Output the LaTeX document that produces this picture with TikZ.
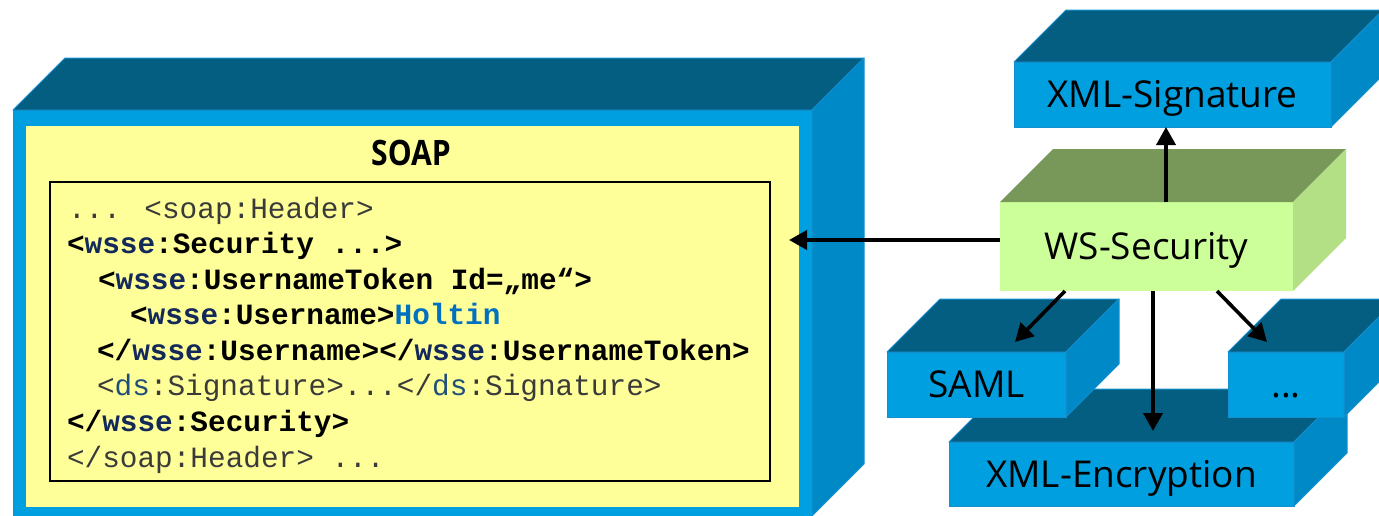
\documentclass[tikz,border=0pt]{standalone}
\usepackage{fontspec}
\setmainfont{Open Sans}
\newfontfamily\codefont{Liberation Mono}
\newfontfamily\titlefont[FakeStretch=0.86]{Open Sans}
\usetikzlibrary{arrows.meta,calc}
\definecolor{bfront}{HTML}{009FE0}
\definecolor{btopc}{HTML}{035E82}
\definecolor{bsidec}{HTML}{0089C7}
\definecolor{bedge}{HTML}{1590CF}
\definecolor{gfront}{HTML}{CCFF99}
\definecolor{gtopc}{HTML}{78985A}
\definecolor{gsidec}{HTML}{B3DF85}
\definecolor{soapyellow}{HTML}{FFFF99}
\definecolor{navy}{HTML}{12295A}
\definecolor{dsblue}{HTML}{1F4E79}
\definecolor{holtin}{HTML}{0070C0}
\definecolor{cgray}{HTML}{3A3A3A}
\newcommand\boxfaces[4]{%
  \filldraw[#3] (#1.north west) -- ++(#2,-#2) -- ($(#1.north east)+(#2,-#2)$) -- (#1.north east) -- cycle;
  \filldraw[#4] (#1.north east) -- ++(#2,-#2) -- ($(#1.south east)+(#2,-#2)$) -- (#1.south east) -- cycle;
}
\tikzset{
  bluebox/.style={fill=bfront, draw=bedge, line width=1pt, inner sep=0pt, outer sep=0pt,
    font=\fontsize{37}{40}\selectfont, text height=26.4pt, text depth=0pt},
  greenbox/.style={fill=gfront, draw=none, inner sep=0pt, outer sep=0pt,
    font=\fontsize{37}{40}\selectfont, text height=26.4pt, text depth=0pt},
  btop/.style={fill=btopc, draw=bedge, line width=1pt, line join=round},
  bside/.style={fill=bsidec, draw=bedge, line width=1pt, line join=round},
  gtop/.style={fill=gtopc, draw=none},
  gside/.style={fill=gsidec, draw=none},
  codeline/.style={anchor=base west, inner sep=0pt, outer sep=0pt,
    font=\codefont\fontsize{29.4}{35}\selectfont},
  arr/.style={line width=3.6pt, -{Triangle[length=18pt,width=19pt]}},
}
\begin{document}
\begin{tikzpicture}[x=1pt,y=-1pt]
\useasboundingbox (0,0) rectangle (1379,515);
\clip (0,0) rectangle (1379,515);
% SOAP cube
\node[bluebox, minimum width=799pt, minimum height=406pt] (soap) at (412.5,313) {};
\boxfaces{soap}{52}{btop}{bside}
\node[fill=soapyellow, inner sep=0pt, outer sep=0pt, minimum width=773pt, minimum height=381pt] (soapin) at (412.5,316.5) {};
\node[draw=black, line width=1.4pt, inner sep=0pt, minimum width=720pt, minimum height=299pt] (code) at (410,331.5) {};
\node[anchor=base, inner sep=0pt, font=\titlefont\bfseries\fontsize{35}{38}\selectfont] (soaptitle) at (411,165) {SOAP};
\node[codeline] (l1) at (68,218) {\color{cgray}... <soap:Header>};
\node[codeline] (l2) at (67,253.6) {\bfseries <{\color{navy}wsse}:Security ...>};
\node[codeline] (l3) at (98,289.1) {\bfseries <{\color{navy}wsse}:UsernameToken Id=„me“>};
\node[codeline] (l4) at (130,324.7) {\bfseries <{\color{navy}wsse}:Username>{\color{holtin}Holtin}};
\node[codeline] (l5) at (97,360.3) {\bfseries </{\color{navy}wsse}:Username></{\color{navy}wsse}:UsernameToken>};
\node[codeline] (l6) at (97,395.9) {\color{cgray}<{\color{dsblue}ds}:Signature>...</{\color{dsblue}ds}:Signature>};
\node[codeline] (l7) at (67,431.4) {\bfseries </{\color{navy}wsse}:Security>};
\node[codeline] (l8) at (67,467) {\color{cgray}</soap:Header> ...};
% right side cubes
\node[bluebox, minimum width=317pt, minimum height=65pt] (sig) at (1172.5,94.5) {XML-Signature};
\boxfaces{sig}{52}{btop}{bside}
\node[greenbox, minimum width=293pt, minimum height=89pt] (ws) at (1146.5,246.5) {WS-Security};
\boxfaces{ws}{53}{gtop}{gside}
\node[bluebox, minimum width=345pt, minimum height=64pt] (enc) at (1121.5,474) {XML-Encryption};
\boxfaces{enc}{53}{btop}{bside}
\node[bluebox, minimum width=179pt, minimum height=65pt] (saml) at (976.5,384.5) {SAML};
\boxfaces{saml}{53}{btop}{bside}
\node[bluebox, minimum width=116pt, minimum height=65pt] (dots) at (1286,384.5) {...};
\boxfaces{dots}{53}{btop}{bside}
% connectors
\coordinate (soaptip) at (789,240);
\coordinate (sigtip) at (1166,127);
\coordinate (samlstart) at (1065,291);
\coordinate (samltip) at (1015,342);
\coordinate (enctip) at (1153,431);
\coordinate (dotsstart) at (1217,291);
\coordinate (dotstip) at (1267,342);
\draw[arr] (soaptip -| ws.west) -- (soaptip);
\draw[arr] (sigtip |- ws.north) -- (sigtip);
\draw[arr] (samlstart) -- (samltip);
\draw[arr] (enctip |- ws.south) -- (enctip);
\draw[arr] (dotsstart) -- (dotstip);
\end{tikzpicture}
\end{document}
